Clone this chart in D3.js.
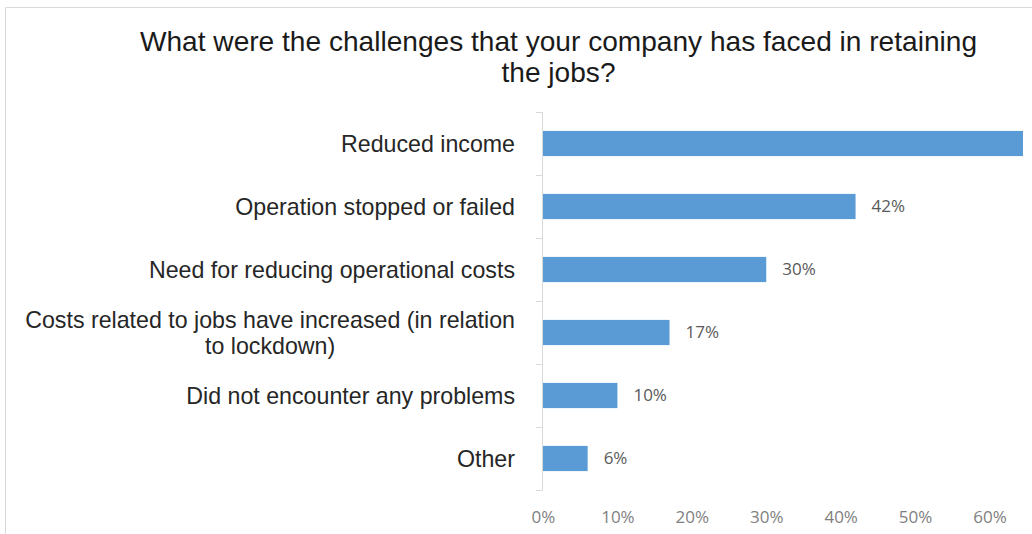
<!DOCTYPE html>
<html>
<head>
<meta charset="utf-8">
<script src="https://cdn.jsdelivr.net/npm/d3@7"></script>
<style>
  html, body { margin: 0; padding: 0; background: #fff; }
  svg { display: block; }
</style>
</head>
<body>
<svg id="chart" width="1032" height="534"></svg>
<script>
// Survey answers, top to bottom
const categories = [
  "Reduced income",
  "Operation stopped or failed",
  "Need for reducing operational costs",
  "Costs related to jobs have increased (in relation|to lockdown)",
  "Did not encounter any problems",
  "Other"
];
const shares = [0.645, 0.42, 0.30, 0.17, 0.10, 0.06];
const tickValues = [0, 0.1, 0.2, 0.3, 0.4, 0.5, 0.6];
const titleLines = [
  "What were the challenges that your company has faced in retaining",
  "the jobs?"
];

const svg = d3.select("#chart");
const W = 1032, H = 534;

// Chart frame
svg.append("path")
  .attr("d", `M5.5,${H} V7.5 H${W}`)
  .attr("fill", "none")
  .attr("stroke", "#d9d9d9")
  .attr("stroke-width", 1);

// Title
const title = svg.append("text")
  .attr("text-anchor", "middle")
  .attr("font-family", "'Liberation Sans', Arial, sans-serif")
  .attr("font-size", 28.1)
  .attr("fill", "#1a1a1a");
titleLines.forEach((t, i) => {
  title.append("tspan").attr("x", 558.5).attr("y", 51 + i * 31).text(t);
});

const x = d3.scaleLinear().domain([0, 0.6]).range([543, 989.5]);
const y = d3.scaleBand().domain(categories).range([112, 490])
  .paddingInner(0.6).paddingOuter(0.3);

// Bars
svg.append("g").selectAll("rect")
  .data(categories)
  .join("rect")
  .attr("x", x(0))
  .attr("y", d => y(d))
  .attr("width", (d, i) => x(shares[i]) - x(0))
  .attr("height", y.bandwidth())
  .attr("fill", "#5b9bd5");

// Value labels (only those that land inside the drawing area)
const valueData = categories
  .map((c, i) => ({ c, v: shares[i] }))
  .filter(d => x(d.v) + 16 < W);
svg.append("g").selectAll("text")
  .data(valueData)
  .join("text")
  .attr("x", d => x(d.v) + 16)
  .attr("y", d => y(d.c) + y.bandwidth() / 2)
  .attr("dy", "0.35em")
  .attr("font-family", "'Open Sans', sans-serif")
  .attr("font-size", 17)
  .attr("fill", "#595959")
  .text(d => d3.format(".0%")(d.v));

// Category axis: line with ticks at band boundaries
const step = y.step();
const bounds = d3.range(categories.length + 1).map(i => 112 + i * step);
const yAxisG = svg.append("g");
yAxisG.append("line")
  .attr("x1", 542.5).attr("x2", 542.5)
  .attr("y1", 112).attr("y2", 490)
  .attr("stroke", "#d9d9d9");
yAxisG.selectAll("line.tick")
  .data(bounds)
  .join("line")
  .attr("class", "tick")
  .attr("x1", 536).attr("x2", 542.5)
  .attr("y1", d => Math.round(d) + 0.5).attr("y2", d => Math.round(d) + 0.5)
  .attr("stroke", "#d9d9d9");

// Category labels, right aligned; wrapped lines centred within their block
const labelRight = 515;
const labels = svg.append("g")
  .attr("font-family", "'Liberation Sans', Arial, sans-serif")
  .attr("font-size", 23.2)
  .attr("fill", "#262626");
categories.forEach(c => {
  const lines = c.split("|");
  const cy = y(c) + y.bandwidth() / 2;
  const lh = 26;
  const g = labels.append("g");
  const texts = lines.map((ln, i) => g.append("text")
    .attr("y", cy + (i - (lines.length - 1) / 2) * lh)
    .attr("dy", "0.35em")
    .attr("text-anchor", "middle")
    .text(ln));
  const widths = texts.map(t => t.node().getComputedTextLength());
  const maxW = d3.max(widths);
  texts.forEach(t => t.attr("x", labelRight - maxW / 2));
});

// Value axis tick labels
const xAxis = d3.axisBottom(x).tickValues(tickValues).tickFormat(d3.format(".0%")).tickSize(0).tickPadding(0);
const xg = svg.append("g").attr("transform", "translate(0,511)").call(xAxis);
xg.select(".domain").remove();
xg.selectAll("text")
  .attr("font-family", "'Open Sans', sans-serif")
  .attr("font-size", 17)
  .attr("fill", "#7f7f7f");
</script>
</body>
</html>
